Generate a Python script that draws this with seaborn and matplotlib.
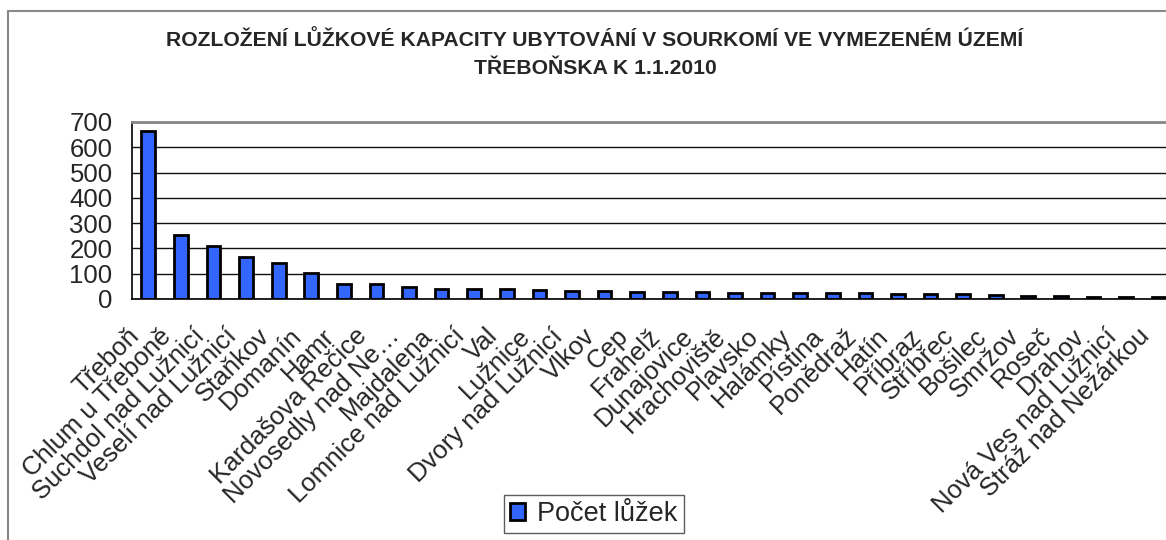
import matplotlib
matplotlib.use('Agg')
import matplotlib.pyplot as plt
import numpy as np
import pandas as pd
import seaborn as sns
from matplotlib.lines import Line2D
from matplotlib.patches import Patch
from matplotlib.transforms import ScaledTranslation

obce = ["Třeboň", "Chlum u Třeboně", "Suchdol nad Lužnicí", "Veselí nad Lužnicí",
        "Staňkov", "Domanín", "Hamr", "Kardašova Řečice", "Novosedly nad Ne…",
        "Majdalena", "Lomnice nad Lužnicí", "Val", "Lužnice", "Dvory nad Lužnicí",
        "Vlkov", "Cep", "Frahelž", "Dunajovice", "Hrachoviště", "Plavsko",
        "Halámky", "Pístina", "Ponědraž", "Hatín", "Příbraz", "Stříbřec",
        "Bošilec", "Smržov", "Roseč", "Drahov", "Nová Ves nad Lužnicí",
        "Stráž nad Nežárkou"]
pocet_luzek = [665, 254, 208, 167, 141, 103, 60, 60, 49, 41, 41, 41, 36, 32,
               32, 29, 28, 28, 25, 24, 24, 24, 24, 21, 20, 20, 17, 13, 12, 9,
               9, 8]
y_ticks = [0, 100, 200, 300, 400, 500, 600, 700]

title_1 = "ROZLOŽENÍ LŮŽKOVÉ KAPACITY UBYTOVÁNÍ V SOURKOMÍ VE VYMEZENÉM ÚZEMÍ"
title_2 = "TŘEBOŇSKA K 1.1.2010"
legend_label = "Počet lůžek"

sns.set_style('white')
plt.rcParams['font.family'] = ['Liberation Sans', 'DejaVu Sans']

W, H = 1166, 540
fig = plt.figure(figsize=(W / 100, H / 100), dpi=100)
# plot area runs past the right edge, like in the cropped original
ax = fig.add_axes([132 / W, 241 / H, 1043 / W, 177 / H])

df = pd.DataFrame({'obec': obce, 'luzka': pocet_luzek})
sns.barplot(data=df, x='obec', y='luzka', color='#3366FF', saturation=1,
            edgecolor='black', linewidth=2, width=0.42, ax=ax)

ax.set_xlim(-0.5, len(obce) - 0.5)
ax.set_ylim(0, 700)
ax.set_yticks(y_ticks)
ax.set_xlabel('')
ax.set_ylabel('')

ax.set_axisbelow(True)
ax.yaxis.grid(True, color='#111111', lw=1)

for s in ['left', 'bottom']:
    ax.spines[s].set_color('black')
    ax.spines[s].set_linewidth(1.2)
ax.spines['top'].set_color('#888888')
ax.spines['top'].set_linewidth(2)
ax.spines['right'].set_visible(False)

# labels on categories, tick marks between them
ax.set_xticks(range(len(obce)))
ax.set_xticklabels(obce, rotation=45, ha='right', va='center', rotation_mode='anchor')
ax.set_xticks(np.arange(-0.5, len(obce)), minor=True)
ax.tick_params(axis='x', which='major', length=0, pad=14, labelsize=18.5)
ax.tick_params(axis='x', which='minor', length=6, width=1, color='black', direction='out')
ax.tick_params(axis='y', length=6, width=1, color='black', direction='out', pad=8, labelsize=18.5)

# push the rotated labels a bit down-left, as Excel does
shift = ScaledTranslation(-13 / 100, -14 / 100, fig.dpi_scale_trans)
for lbl in ax.get_xticklabels():
    lbl.set_transform(lbl.get_transform() + shift)

fig.text(595 / W, 1 - 40 / H, title_1, ha='center', va='center', fontsize=15.2, fontweight='bold')
fig.text(595 / W, 1 - 68 / H, title_2, ha='center', va='center', fontsize=15.2, fontweight='bold')

# outer chart border (cut at the right and bottom)
fig.add_artist(Line2D([8 / W, 8 / W], [0, 1 - 11 / H], transform=fig.transFigure, color='#888888', lw=1.5))
fig.add_artist(Line2D([8 / W, 1], [1 - 11 / H, 1 - 11 / H], transform=fig.transFigure, color='#888888', lw=1.5))

handles = [Patch(facecolor='#3366FF', edgecolor='black', lw=2)]
leg = fig.legend(handles, [legend_label], loc='center', bbox_to_anchor=(594 / W, 1 - 514 / H),
                 frameon=True, fancybox=False, edgecolor='#333333', fontsize=19.5,
                 handlelength=0.55, handleheight=0.55, handletextpad=0.45, borderpad=0.22,
                 borderaxespad=0)
leg.get_frame().set_linewidth(1)

fig.savefig('out.png', dpi=100)
